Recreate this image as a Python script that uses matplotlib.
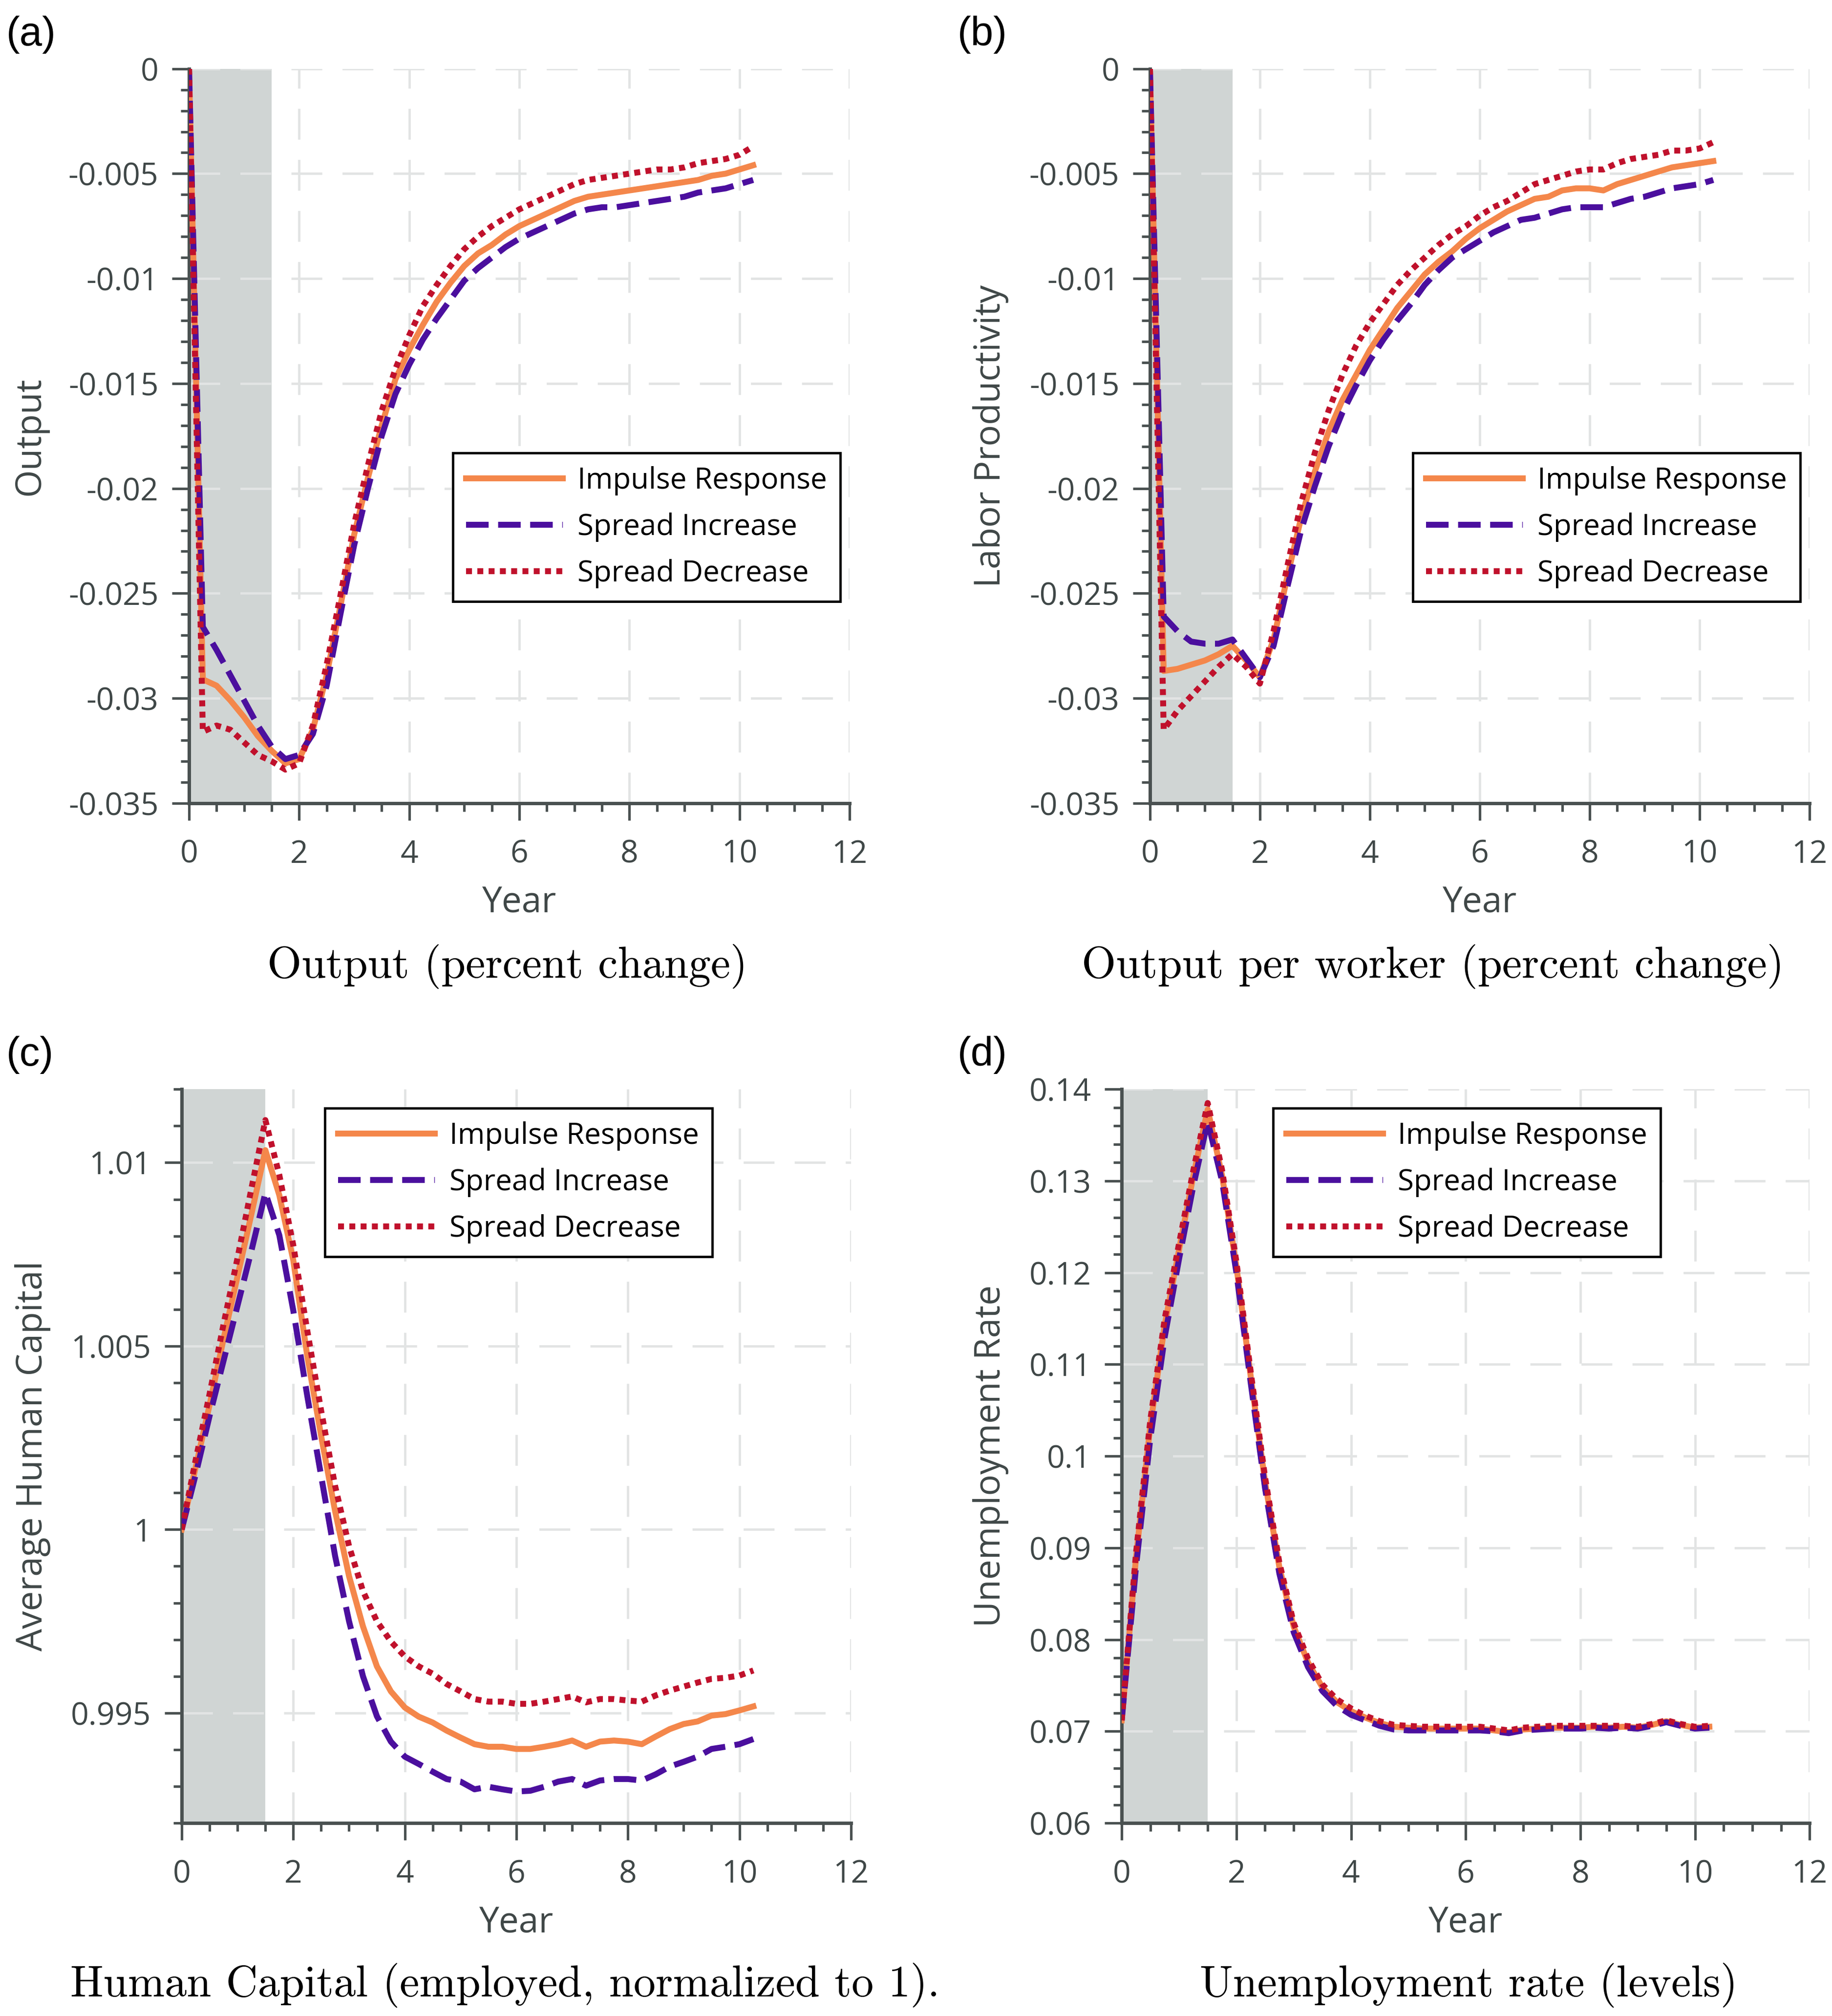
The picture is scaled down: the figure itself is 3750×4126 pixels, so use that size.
import numpy as np
import matplotlib
matplotlib.use("Agg")
import matplotlib.pyplot as plt
from matplotlib.ticker import MultipleLocator, FuncFormatter

plt.rcParams["font.family"] = ["Open Sans", "DejaVu Sans"]
plt.rcParams["axes.unicode_minus"] = False

# quarterly time axis (years)
years = [0.0, 0.25, 0.5, 0.75, 1.0, 1.25, 1.5, 1.75, 2.0, 2.25, 2.5, 2.75,
         3.0, 3.25, 3.5, 3.75, 4.0, 4.25, 4.5, 4.75, 5.0, 5.25, 5.5, 5.75,
         6.0, 6.25, 6.5, 6.75, 7.0, 7.25, 7.5, 7.75, 8.0, 8.25, 8.5, 8.75,
         9.0, 9.25, 9.5, 9.75, 10.0, 10.25]

series_names = ["Impulse Response", "Spread Increase", "Spread Decrease"]

# (a) output, percent change
output_ir = [0.0, -0.0291, -0.0294, -0.0301, -0.0309, -0.0318, -0.0325, -0.0331,
             -0.0329, -0.0315, -0.0289, -0.0256, -0.0222, -0.0195, -0.0170, -0.0148,
             -0.0134, -0.0122, -0.0111, -0.0102, -0.0094, -0.0088, -0.0084, -0.0079,
             -0.0075, -0.0072, -0.0069, -0.0066, -0.0063, -0.0061, -0.0060, -0.0059,
             -0.0058, -0.0057, -0.0056, -0.0055, -0.0054, -0.0053, -0.0051, -0.0050,
             -0.0048, -0.0046]
output_inc = [0.0, -0.0266, -0.0277, -0.0289, -0.0301, -0.0313, -0.0323, -0.0329,
              -0.0327, -0.0317, -0.0294, -0.0260, -0.0227, -0.0200, -0.0175, -0.0155,
              -0.0141, -0.0129, -0.0119, -0.0110, -0.0101, -0.0095, -0.0090, -0.0085,
              -0.0081, -0.0078, -0.0075, -0.0072, -0.0069, -0.0067, -0.0066, -0.0066,
              -0.0065, -0.0064, -0.0063, -0.0062, -0.0061, -0.0059, -0.0058, -0.0057,
              -0.0055, -0.0053]
output_dec = [0.0, -0.0316, -0.0313, -0.0315, -0.0321, -0.0327, -0.0330, -0.0334,
              -0.0331, -0.0313, -0.0284, -0.0251, -0.0217, -0.0189, -0.0163, -0.0143,
              -0.0127, -0.0113, -0.0103, -0.0094, -0.0086, -0.0080, -0.0075, -0.0071,
              -0.0067, -0.0064, -0.0061, -0.0058, -0.0055, -0.0053, -0.0052, -0.0051,
              -0.0050, -0.0049, -0.0048, -0.0048, -0.0047, -0.0045, -0.0044, -0.0043,
              -0.0041, -0.0037]

# (b) output per worker, percent change
prod_ir = [0.0, -0.0287, -0.0286, -0.0284, -0.0282, -0.0279, -0.0275, -0.0282,
           -0.0290, -0.0272, -0.0242, -0.0214, -0.0192, -0.0173, -0.0158, -0.0146,
           -0.0134, -0.0124, -0.0114, -0.0106, -0.0098, -0.0092, -0.0087, -0.0081,
           -0.0076, -0.0072, -0.0068, -0.0065, -0.0062, -0.0061, -0.0058, -0.0057,
           -0.0057, -0.0058, -0.0055, -0.0053, -0.0051, -0.0049, -0.0047, -0.0046,
           -0.0045, -0.0044]
prod_inc = [0.0, -0.0261, -0.0268, -0.0273, -0.0274, -0.0274, -0.0272, -0.0281,
            -0.0290, -0.0275, -0.0247, -0.0220, -0.0199, -0.0180, -0.0164, -0.0151,
            -0.0139, -0.0129, -0.0120, -0.0112, -0.0103, -0.0096, -0.0090, -0.0086,
            -0.0082, -0.0078, -0.0075, -0.0072, -0.0071, -0.0069, -0.0067, -0.0066,
            -0.0066, -0.0066, -0.0064, -0.0062, -0.0061, -0.0059, -0.0057, -0.0056,
            -0.0055, -0.0053]
prod_dec = [0.0, -0.0315, -0.0306, -0.0299, -0.0292, -0.0285, -0.0279, -0.0285,
            -0.0293, -0.0268, -0.0237, -0.0207, -0.0183, -0.0163, -0.0146, -0.0132,
            -0.0121, -0.0112, -0.0103, -0.0096, -0.0090, -0.0084, -0.0079, -0.0075,
            -0.0070, -0.0066, -0.0063, -0.0059, -0.0055, -0.0053, -0.0051, -0.0049,
            -0.0048, -0.0048, -0.0045, -0.0043, -0.0042, -0.0041, -0.0039, -0.0039,
            -0.0038, -0.0035]

# (c) average human capital of employed, normalized to 1
hc_ir = [1.0, 1.0017, 1.0034, 1.0052, 1.0069, 1.0086, 1.01034, 1.00911,
         1.00734, 1.00474, 1.00255, 1.0005, 0.99873, 0.99736, 0.99627, 0.99559,
         0.99515, 0.9949, 0.99474, 0.99452, 0.99433, 0.99415, 0.99408, 0.99408,
         0.99402, 0.99402, 0.99408, 0.99415, 0.99425, 0.99408, 0.99422, 0.99425,
         0.99422, 0.99415, 0.99436, 0.99456, 0.9947, 0.99477, 0.99493, 0.99497,
         0.99507, 0.99518]
hc_inc = [1.0, 1.0015, 1.0031, 1.0046, 1.0061, 1.0076, 1.00918, 1.00802,
          1.00597, 1.00365, 1.00146, 0.99928, 0.9975, 0.996, 0.99491, 0.99422,
          0.99381, 0.99361, 0.9934, 0.9932, 0.99313, 0.99292, 0.99299, 0.99292,
          0.99286, 0.99288, 0.99299, 0.99313, 0.9932, 0.99302, 0.99316, 0.9932,
          0.9932, 0.99316, 0.99333, 0.99354, 0.99367, 0.99381, 0.99402, 0.99408,
          0.99415, 0.99429]
hc_dec = [1.0, 1.0019, 1.0037, 1.0056, 1.0074, 1.0093, 1.01116, 1.00966,
          1.00775, 1.00543, 1.00324, 1.00119, 0.99955, 0.99832, 0.9975, 0.99695,
          0.99654, 0.99627, 0.99607, 0.99579, 0.99559, 0.99538, 0.99531, 0.99531,
          0.99525, 0.99525, 0.99531, 0.99538, 0.99545, 0.99529, 0.99538, 0.99538,
          0.99534, 0.99531, 0.99548, 0.99561, 0.99572, 0.99583, 0.99593, 0.99596,
          0.99602, 0.99616]

# (d) unemployment rate, levels
unemp_ir = [0.0712, 0.0890, 0.1034, 0.1143, 0.1225, 0.1306, 0.1378, 0.1306,
            0.1207, 0.1087, 0.0972, 0.0879, 0.0814, 0.0775, 0.0748, 0.0732,
            0.0722, 0.0715, 0.0709, 0.0705, 0.0704, 0.0703, 0.0703, 0.0703,
            0.0703, 0.0703, 0.0701, 0.0699, 0.0702, 0.0703, 0.0704, 0.0704,
            0.0704, 0.0705, 0.0704, 0.0705, 0.0704, 0.0707, 0.0711, 0.0707,
            0.0704, 0.0705]
unemp_inc = [0.0712, 0.0880, 0.1020, 0.1130, 0.1215, 0.1295, 0.1365, 0.1300,
             0.1200, 0.1080, 0.0965, 0.0872, 0.0808, 0.0770, 0.0744, 0.0728,
             0.0718, 0.0712, 0.0706, 0.0702, 0.0701, 0.0701, 0.0701, 0.0701,
             0.0701, 0.0701, 0.0700, 0.0698, 0.0701, 0.0702, 0.0703, 0.0703,
             0.0703, 0.0704, 0.0703, 0.0704, 0.0703, 0.0706, 0.0710, 0.0706,
             0.0703, 0.0704]
unemp_dec = [0.0712, 0.0895, 0.1040, 0.1150, 0.1232, 0.1312, 0.1385, 0.1312,
             0.1212, 0.1092, 0.0977, 0.0884, 0.0818, 0.0779, 0.0751, 0.0735,
             0.0725, 0.0717, 0.0711, 0.0707, 0.0706, 0.0705, 0.0705, 0.0705,
             0.0705, 0.0705, 0.0703, 0.0701, 0.0704, 0.0705, 0.0706, 0.0706,
             0.0706, 0.0706, 0.0706, 0.0706, 0.0705, 0.0708, 0.0712, 0.0708,
             0.0705, 0.0706]

recession_end = 1.5

colors = ["#F4874B", "#4B0F9E", "#C0112C"]
spine_color = "#4a5151"
text_color = "#3f4747"


def draw_panel(ax, ir, inc, dec, ylabel, ylim, ymajor, yminor, leg_anchor, leg_loc):
    ax.axvspan(0, recession_end, color="#d0d5d4", lw=0, zorder=0.5)
    ax.plot(years, ir, color=colors[0], lw=3.5, label=series_names[0], zorder=3)
    ax.plot(years, inc, color=colors[1], lw=3.5, ls=(0, (3.8, 1.6)),
            label=series_names[1], zorder=4)
    ax.plot(years, dec, color=colors[2], lw=3.5, ls=(0, (1.0, 0.9)),
            label=series_names[2], zorder=5)

    ax.set_xlim(0, 12)
    ax.set_ylim(*ylim)
    ax.xaxis.set_major_locator(MultipleLocator(2))
    ax.xaxis.set_minor_locator(MultipleLocator(0.5))
    ax.yaxis.set_major_locator(MultipleLocator(ymajor))
    ax.yaxis.set_minor_locator(MultipleLocator(yminor))
    ax.yaxis.set_major_formatter(FuncFormatter(lambda v, p: "%g" % round(v, 6)))

    for side in ["top", "right"]:
        ax.spines[side].set_visible(False)
    for side in ["left", "bottom"]:
        ax.spines[side].set_color(spine_color)
        ax.spines[side].set_linewidth(2.0)
    ax.tick_params(which="major", direction="out", length=10, width=1.5,
                   color=spine_color, labelcolor=text_color, labelsize=18.5)
    ax.tick_params(which="minor", direction="out", length=5, width=1.5,
                   color=spine_color)
    ax.tick_params(axis="x", which="major", pad=11)
    ax.tick_params(axis="y", which="major", pad=8)

    ax.grid(True, which="major", color="#e2e4e4", lw=1.4, ls=(0, (13, 8.5)))
    ax.set_xlabel("Year", fontsize=21, color=text_color, labelpad=9)
    ax.set_ylabel(ylabel, fontsize=21, color=text_color, labelpad=12)

    leg = ax.legend(loc=leg_loc, bbox_to_anchor=leg_anchor, fontsize=17.3,
                    handlelength=3.3, frameon=True, fancybox=False,
                    framealpha=1, edgecolor="black", labelspacing=0.58,
                    borderpad=0.45, handletextpad=0.5, borderaxespad=0)
    leg.get_frame().set_linewidth(1.4)
    for txt in leg.get_texts():
        txt.set_color("black")


fig = plt.figure(figsize=(15, 16.504), dpi=250)

ax_a = fig.add_axes([0.1032, 0.6016, 0.3605, 0.3643])
ax_b = fig.add_axes([0.6277, 0.6016, 0.3600, 0.3643])
ax_c = fig.add_axes([0.0992, 0.0957, 0.3653, 0.3640])
ax_d = fig.add_axes([0.6123, 0.0957, 0.3755, 0.3640])

draw_panel(ax_a, output_ir, output_inc, output_dec, "Output",
           (-0.035, 0.0), 0.005, 0.001, (0.986, 0.477), "upper right")
draw_panel(ax_b, prod_ir, prod_inc, prod_dec, "Labor Productivity",
           (-0.035, 0.0), 0.005, 0.001, (0.986, 0.477), "upper right")
draw_panel(ax_c, hc_ir, hc_inc, hc_dec, "Average Human Capital",
           (0.992, 1.012), 0.005, 0.001, (0.214, 0.974), "upper left")
draw_panel(ax_d, unemp_ir, unemp_inc, unemp_dec, "Unemployment Rate",
           (0.06, 0.14), 0.01, 0.002, (0.22, 0.974), "upper left")

panel_tags = [("(a)", 0.0035, 0.9922), ("(b)", 0.5227, 0.9922),
              ("(c)", 0.0035, 0.4862), ("(d)", 0.5227, 0.4862)]
for tag, x, y in panel_tags:
    fig.text(x, y, tag, fontsize=24, family="Liberation Sans", va="top", ha="left")

captions = [("Output (percent change)", 0.277, 0.5206),
            ("Output per worker (percent change)", 0.782, 0.5206),
            ("Human Capital (employed, normalized to 1).", 0.2757, 0.0153),
            ("Unemployment rate (levels)", 0.8016, 0.0153)]
for cap, x, y in captions:
    fig.text(x, y, cap, fontsize=26, family="cmr10", ha="center", va="center")

fig.savefig("out.png", dpi=250)
